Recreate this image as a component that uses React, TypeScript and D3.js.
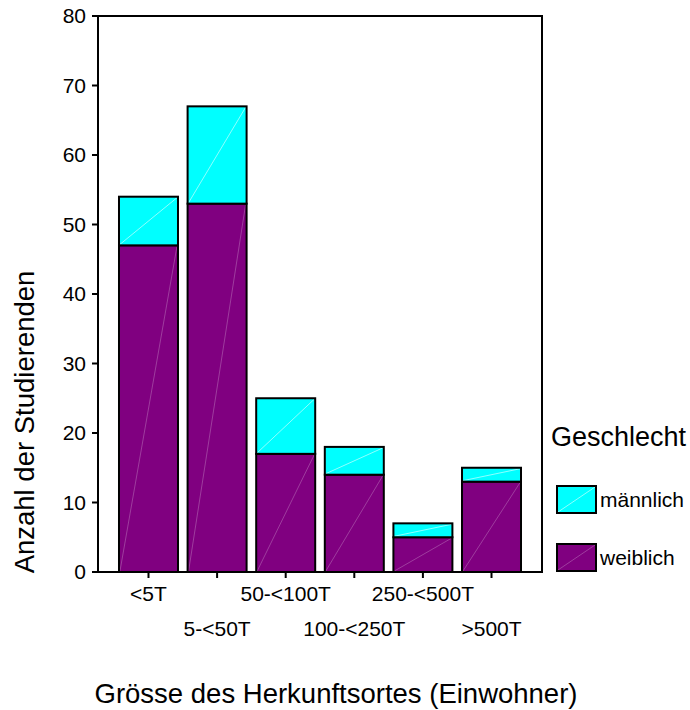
import React from "react";
import * as d3 from "d3";

const categories = ["<5T", "5-<50T", "50-<100T", "100-<250T", "250-<500T", ">500T"];
const weiblich = [47, 53, 17, 14, 5, 13];
const maennlich = [7, 14, 8, 4, 2, 2];
const yTicks = [0, 10, 20, 30, 40, 50, 60, 70, 80];
const seriesNames = ["männlich", "weiblich"];

const W = 690;
const H = 710;
const FONT = "'Liberation Sans', Arial, sans-serif";

export default function App() {
  const left = 98, right = 542, top = 16, bottom = 572;
  const x = d3.scaleBand<string>().domain(categories).range([left, right]).paddingInner(0.14).paddingOuter(0.306);
  const y = d3.scaleLinear().domain([0, 80]).range([bottom, top]);
  const colors = { w: "#800080", m: "#00FFFF" };
  const diag = { w: "#b060b0", m: "#e0ffff" };

  const segs: any[] = [];
  categories.forEach((c, i) => {
    const x0 = x(c)!;
    const bw = x.bandwidth();
    const w0 = y(0), w1 = y(weiblich[i]);
    const m1 = y(weiblich[i] + maennlich[i]);
    segs.push({ key: c + "w", x0, bw, yTop: w1, yBot: w0, fill: colors.w, d: diag.w });
    segs.push({ key: c + "m", x0, bw, yTop: m1, yBot: w1, fill: colors.m, d: diag.m });
  });

  return (
    <svg width={W} height={H} style={{ position: "absolute", left: 0, top: 0, background: "#fff" }} fontFamily={FONT}>
      {/* frame */}
      <rect x={left} y={top} width={right - left} height={bottom - top} fill="none" stroke="#000" strokeWidth={2} />
      {/* bars */}
      {segs.map((s) => (
        <g key={s.key}>
          <rect x={s.x0} y={s.yTop} width={s.bw} height={s.yBot - s.yTop} fill={s.fill} />
          <line x1={s.x0 + 1} y1={s.yBot - 1} x2={s.x0 + s.bw - 1} y2={s.yTop + 1} stroke={s.d} strokeWidth={0.8} opacity={0.8} />
          <rect x={s.x0} y={s.yTop} width={s.bw} height={s.yBot - s.yTop} fill="none" stroke="#000" strokeWidth={2} />
        </g>
      ))}
      {/* y axis ticks */}
      {yTicks.map((t) => (
        <g key={t}>
          <line x1={left - 6} x2={left} y1={y(t)} y2={y(t)} stroke="#000" strokeWidth={2} />
          <text x={left - 12} y={y(t)} dy="0.35em" textAnchor="end" fontSize={21} fill="#000">{t}</text>
        </g>
      ))}
      {/* x axis ticks */}
      {categories.map((c, i) => {
        const cx = x(c)! + x.bandwidth() / 2;
        return (
          <g key={c}>
            <line x1={cx} x2={cx} y1={bottom} y2={bottom + 6} stroke="#000" strokeWidth={2} />
            <text x={cx} y={i % 2 === 0 ? 601 : 636} textAnchor="middle" fontSize={21} fill="#000">{c}</text>
          </g>
        );
      })}
      {/* axis titles */}
      <text x={336} y={703} textAnchor="middle" fontSize={27.5} fill="#000">Grösse des Herkunftsortes (Einwohner)</text>
      <text transform={`translate(34, 422) rotate(-90)`} textAnchor="middle" fontSize={27.5} fill="#000">Anzahl der Studierenden</text>
      {/* legend */}
      <text x={551} y={446} fontSize={27} fill="#000">Geschlecht</text>
      {seriesNames.map((n, i) => {
        const sy = 486 + i * 58;
        const fill = i === 0 ? colors.m : colors.w;
        const d = i === 0 ? diag.m : diag.w;
        return (
          <g key={n}>
            <rect x={557} y={sy} width={39} height={27} fill={fill} />
            <line x1={558} y1={sy + 26} x2={595} y2={sy + 1} stroke={d} strokeWidth={0.8} opacity={0.8} />
            <rect x={557} y={sy} width={39} height={27} fill="none" stroke="#000" strokeWidth={2} />
            <text x={600} y={sy + 14} dy="0.35em" fontSize={21} fill="#000">{n}</text>
          </g>
        );
      })}
    </svg>
  );
}
